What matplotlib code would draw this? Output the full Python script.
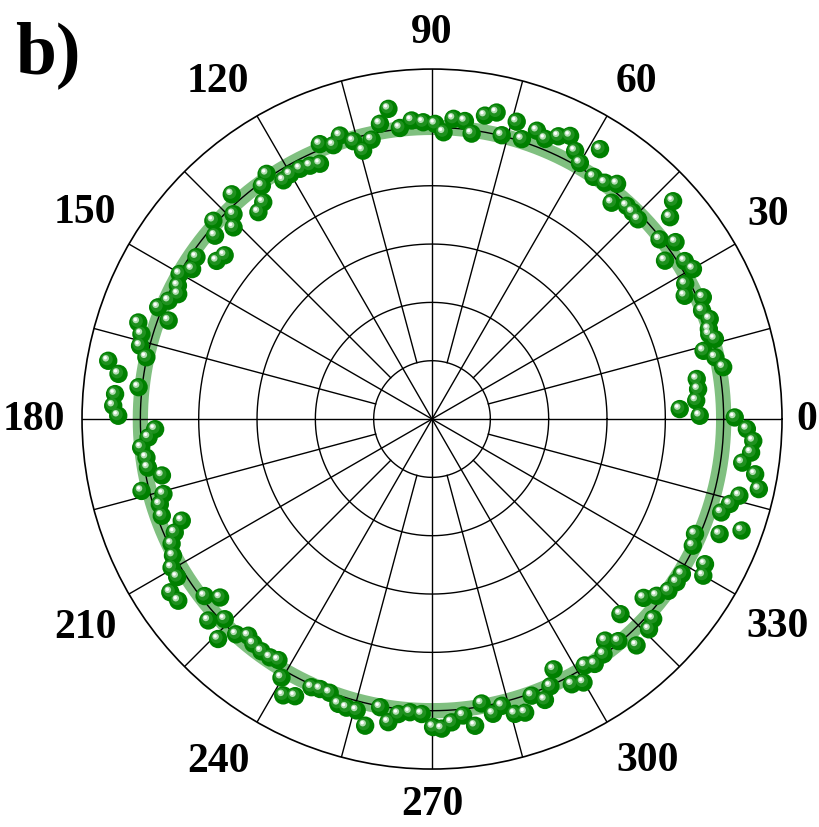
import numpy as np
import matplotlib
matplotlib.use('Agg')
import matplotlib.pyplot as plt
from matplotlib.transforms import offset_copy

# measured points: angle in degrees, radius in grid-ring units (outer ring = 6)
ang_q1 = [89.4, 87.7, 85.9, 83.7, 82.1, 80.1, 78.1, 76.2, 74.1, 72.2,
          70.0, 68.0, 65.9, 64.0, 61.9, 60.0, 58.1, 56.3, 53.8, 51.8,
          50.3, 47.6, 45.9, 44.1, 42.1, 40.3, 38.3, 36.0, 34.2, 32.0,
          29.9, 28.1, 26.0, 24.2, 21.9, 19.8, 18.0, 17.0, 15.8, 14.1,
          12.3, 10.1, 8.6, 6.4, 4.0, 2.3, 0.7, 0.3]
rad_q1 = [5.06, 4.92, 5.16, 5.14, 4.94, 5.28, 5.37, 5.01, 5.30, 5.04,
          5.26, 5.18, 5.31, 5.40, 5.21, 5.07, 5.45, 4.99, 5.02, 5.13,
          4.82, 4.95, 4.94, 4.92, 5.57, 5.35, 4.97, 5.16, 4.83, 5.11,
          5.16, 4.92, 4.82, 5.09, 4.99, 5.06, 4.99, 4.97, 5.04, 4.80,
          4.97, 5.07, 4.59, 4.59, 4.54, 4.25, 4.59, 5.19]

ang_q2 = [91.7, 93.9, 96.3, 98.0, 100.0, 102.2, 104.4, 105.8, 108.0, 109.8,
          112.2, 113.7, 115.7, 117.8, 120.1, 121.9, 124.0, 126.1, 127.9, 130.0,
          131.7, 134.1, 136.0, 137.8, 139.8, 141.7, 143.7, 145.5, 148.0, 150.1,
          152.3, 153.8, 155.8, 157.8, 159.5, 161.8, 163.7, 165.9, 167.8, 169.8,
          171.8, 173.8, 175.5, 177.6, 179.4]
rad_q2 = [5.09, 5.13, 5.02, 5.37, 5.14, 4.90, 4.75, 4.95, 5.11, 4.99,
          5.09, 4.78, 4.82, 4.85, 4.85, 4.82, 5.07, 4.95, 4.71, 4.63,
          5.16, 4.89, 4.73, 5.06, 4.87, 4.53, 4.58, 4.90, 4.85, 4.99,
          4.92, 4.85, 4.95, 5.07, 4.82, 5.30, 5.19, 5.16, 5.01, 5.64,
          5.43, 5.06, 5.45, 5.47, 5.38]

ang_q3 = [182.1, 183.7, 185.6, 187.7, 189.7, 191.8, 193.9, 195.6, 197.4, 199.7,
          202.1, 203.8, 205.6, 207.8, 209.7, 211.8, 213.5, 215.6, 217.9, 220.1,
          222.0, 224.0, 225.8, 227.7, 229.7, 231.5, 233.7, 235.8, 237.5, 239.8,
          241.7, 243.7, 245.8, 247.5, 249.5, 251.8, 253.5, 255.5, 257.7, 259.8,
          261.8, 263.5, 265.7, 268.0]
rad_q3 = [4.75, 4.87, 5.01, 4.94, 4.94, 4.73, 5.13, 4.78, 4.89, 4.92,
          4.63, 4.82, 4.95, 5.02, 5.14, 5.14, 5.38, 5.35, 4.94, 4.75,
          5.16, 4.94, 5.26, 4.99, 4.87, 4.92, 4.94, 4.94, 4.90, 5.13,
          5.38, 5.30, 5.04, 5.01, 5.01, 5.14, 5.16, 5.16, 5.38, 5.02,
          5.25, 5.09, 5.04, 5.06]

ang_q4 = [358.2, 356.1, 354.0, 352.0, 350.3, 347.9, 346.0, 344.1, 342.1, 340.2,
          338.2, 336.4, 334.1, 332.0, 330.0, 328.2, 326.3, 324.0, 321.8, 319.8,
          317.9, 315.9, 314.0, 312.1, 310.0, 308.0, 306.1, 303.6, 301.8, 299.9,
          297.8, 295.9, 293.9, 291.9, 289.8, 287.6, 285.7, 283.7, 281.7, 279.9,
          278.0, 276.0, 273.7, 271.8, 270.2]
rad_q4 = [5.40, 5.52, 5.50, 5.37, 5.62, 5.73, 5.43, 5.31, 5.21, 5.64,
          5.31, 4.92, 4.97, 5.30, 5.37, 5.04, 5.04, 5.01, 4.90, 4.75,
          5.11, 5.18, 4.65, 5.23, 4.97, 4.82, 4.99, 5.04, 4.97, 5.21,
          5.14, 4.77, 5.01, 5.19, 5.04, 5.28, 5.25, 5.06, 5.16, 4.95,
          5.31, 5.11, 5.21, 5.31, 5.28]

fit_radius = 5.0
angle_labels = ['0', '30', '60', '90', '120', '150', '180', '210', '240', '270', '300', '330']

theta = np.deg2rad(np.concatenate([ang_q1, ang_q2, ang_q3, ang_q4]))
rad = np.concatenate([rad_q1, rad_q2, rad_q3, rad_q4])

fig = plt.figure(figsize=(8.2, 8.28), dpi=100)
ax = fig.add_axes([0.1, 0.07, 0.8537, 0.8454], projection='polar')
ax.set_ylim(0, 6)
ax.grid(False)
ax.set_xticks([])
ax.set_yticks([])
ax.spines['polar'].set_linewidth(1.2)
ax.spines['polar'].set_color('black')

full = np.linspace(0, 2 * np.pi, 721)

# fitted circle (broad light green band)
ax.plot(full, np.full_like(full, fit_radius), color='#80c080', lw=11, zorder=1)

# grid: rings and spokes
for rr in range(1, 6):
    ax.plot(full, np.full_like(full, rr), color='black', lw=1.0, zorder=2)
for a in range(0, 360, 15):
    r0 = 0 if a % 30 == 0 else 1
    ax.plot([np.deg2rad(a)] * 2, [r0, 6], color='black', lw=1.0, zorder=2)

# shaded "sphere" markers
ax.scatter(theta, rad, s=175, color='#008000', edgecolors='none', zorder=3)
tr1 = offset_copy(ax.transData, fig=fig, x=-1.5, y=1.5, units='dots')
ax.scatter(theta, rad, s=75, color='#2a982a', edgecolors='none', zorder=4,
           transform=tr1, alpha=0.75)
tr2 = offset_copy(ax.transData, fig=fig, x=-2.5, y=2.5, units='dots')
ax.scatter(theta, rad, s=22, color='#b0dcb0', edgecolors='none', zorder=5,
           transform=tr2)
tr3 = offset_copy(ax.transData, fig=fig, x=-3, y=3, units='dots')
ax.scatter(theta, rad, s=6, color='white', edgecolors='none', zorder=6,
           transform=tr3)

# angle labels (placement: angle, radius)
lab_pos = {'0': (0, 6.43), '30': (31.3, 6.75), '60': (58.9, 6.77),
           '90': (90, 6.63), '120': (122.3, 6.86), '150': (149.2, 6.93),
           '180': (180, 6.82), '210': (210.9, 6.93), '240': (238.0, 6.91),
           '270': (270, 6.6), '300': (302.3, 6.91), '330': (329.1, 6.91)}
for lab in angle_labels:
    a, rl = lab_pos[lab]
    ax.text(np.deg2rad(a), rl, lab, ha='center', va='center',
            fontsize=30, fontweight='bold', family='Liberation Serif',
            clip_on=False)

fig.text(0.018, 0.912, 'b)', fontsize=53, fontweight='bold',
         family='Liberation Serif', ha='left', va='baseline')

fig.savefig('out.png', dpi=100)
